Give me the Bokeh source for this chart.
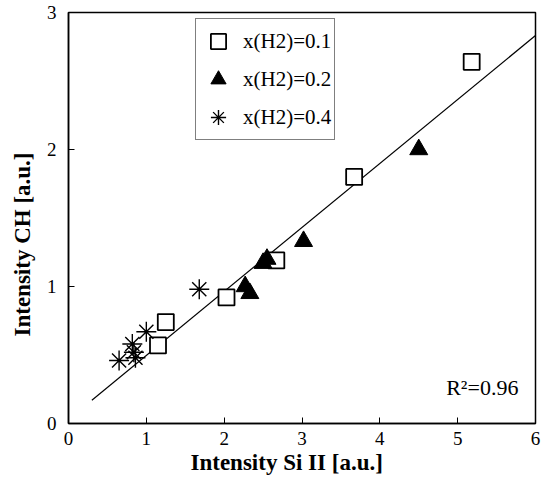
from bokeh.plotting import figure
from bokeh.models import Range1d, Legend, LegendItem, FixedTicker, Title
from bokeh.core.properties import value
from bokeh.embed import file_html
from bokeh.resources import INLINE

# data
sq_x = [1.15, 1.25, 2.03, 2.67, 3.67, 5.18]
sq_y = [0.57, 0.74, 0.92, 1.19, 1.80, 2.64]
tri_x = [2.27, 2.33, 2.50, 2.55, 3.02, 4.50]
tri_y = [1.00, 0.95, 1.17, 1.20, 1.33, 2.00]
ast_x = [0.65, 0.82, 0.84, 0.86, 1.00, 1.68]
ast_y = [0.46, 0.58, 0.52, 0.48, 0.67, 0.98]
fit_x = [0.3, 6.0]
fit_slope = 0.467
fit_intercept = 0.03
fit_y = [fit_slope * v + fit_intercept for v in fit_x]
x_ticks = [0, 1, 2, 3, 4, 5, 6]
y_ticks = [0, 1, 2, 3]
labels = ["x(H2)=0.1", "x(H2)=0.2", "x(H2)=0.4"]
r2_text = "R\u00b2=0.96"
x_title = "Intensity Si II [a.u.]"
y_title = "Intensity CH [a.u.]"

SERIF = "Liberation Serif"

p = figure(width=543, height=481, output_backend="svg", toolbar_location=None,
           x_range=Range1d(0, 6), y_range=Range1d(0, 3),
           min_border_left=68, min_border_right=8, min_border_top=12, min_border_bottom=58)
p.grid.visible = False
p.outline_line_color = "black"
p.outline_line_width = 1.5
p.background_fill_color = "white"
p.border_fill_color = "white"

for ax in (p.xaxis[0], p.yaxis[0]):
    ax.axis_line_color = "black"
    ax.axis_line_width = 1.5
    ax.major_tick_in = 6
    ax.major_tick_out = 0
    ax.minor_tick_line_color = None
    ax.major_label_text_font = SERIF
    ax.major_label_text_font_size = "19px"
    ax.major_label_text_color = "black"

p.xaxis.ticker = FixedTicker(ticks=x_ticks)
p.yaxis.ticker = FixedTicker(ticks=y_ticks)
p.xaxis.major_label_standoff = 8
p.yaxis.major_label_standoff = 12

# axis titles, placed slightly off-centre as in the reference
xt = Title(text=x_title, align="left", offset=122, text_font=SERIF,
           text_font_style="bold", text_font_size="23px", text_color="black",
           standoff=0)
yt = Title(text=y_title, align="left", offset=87, vertical_align="middle",
           text_font=SERIF, text_font_style="bold", text_font_size="23px",
           text_color="black", standoff=16)
p.add_layout(xt, "below")
p.add_layout(yt, "left")

p.line(fit_x, fit_y, line_color="black", line_width=1.2)

r_sq = p.scatter(sq_x, sq_y, marker="square", size=16, fill_color="white",
                 line_color="black", line_width=1.8)
r_tri = p.scatter(tri_x, tri_y, marker="triangle", size=18, fill_color="black",
                  line_color="black", line_width=1)
r_ast = p.scatter(ast_x, ast_y, marker="asterisk", size=20, line_color="black",
                  line_width=1.4)

p.text(x=[5.78], y=[0.26], text=[r2_text], text_align="right", text_baseline="middle",
       text_font=value(SERIF), text_font_size="22px", text_color="black")

legend = Legend(items=[LegendItem(label=labels[0], renderers=[r_sq]),
                       LegendItem(label=labels[1], renderers=[r_tri]),
                       LegendItem(label=labels[2], renderers=[r_ast])],
                location=(127, 283))
legend.label_text_font = SERIF
legend.label_text_font_size = "21px"
legend.label_text_color = "black"
legend.border_line_color = "black"
legend.border_line_width = 1.2
legend.label_height = 38
legend.glyph_height = 38
legend.glyph_width = 38
legend.spacing = 0
legend.padding = 3
legend.margin = 0
legend.label_standoff = 6
p.add_layout(legend)

open("out.html", "w").write(file_html(p, INLINE))
